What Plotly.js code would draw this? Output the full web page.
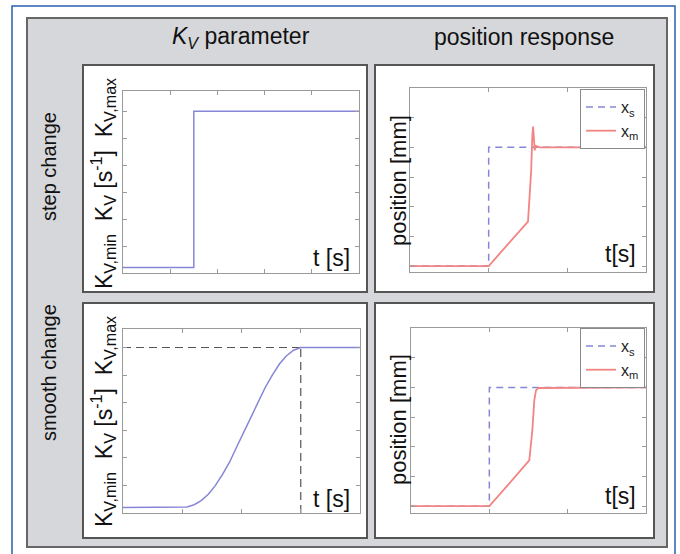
<!DOCTYPE html>
<html>
<head>
<meta charset="utf-8">
<script src="https://cdn.plot.ly/plotly-3.0.1.min.js"></script>
<style>
  html, body { margin: 0; padding: 0; background: #ffffff; }
  #chart { width: 680px; height: 554px; }
</style>
</head>
<body>
<div id="chart"></div>
<script>
// ---------- data ----------
// Top-left: step change of K_V (normalised time 0..1)
const kvStepT = [0, 0.3, 0.3, 1];
const kvStepV = [0.2, 0.2, 6, 6];

// Bottom-left: smooth change of K_V
const kvSmoothT = [0, 0.25, 0.27, 0.30, 0.33, 0.36, 0.39, 0.42, 0.45, 0.48, 0.51, 0.54, 0.57, 0.60, 0.63, 0.66, 0.69, 0.72, 0.75, 1.0];
const kvSmoothV = [0.2, 0.2, 0.22, 0.3, 0.45, 0.68, 1.0, 1.4, 1.85, 2.4, 2.95, 3.5, 4.05, 4.55, 5.0, 5.4, 5.7, 5.9, 6.0, 6.0];
// reference (dashed) lines in bottom-left
const refHT = [0, 0.75];
const refHV = [6, 6];
const refVT = [0.75, 0.75];
const refVV = [0, 6];

// Top-right: position response to the step change
const xsT = [0, 1, 1, 3];
const xsV = [0, 0, 4, 4];
const xmStepT = [0, 1, 1.5, 1.54, 1.555, 1.565, 1.575, 1.585, 1.6, 1.65, 3];
const xmStepV = [0, 0, 1.5, 3.2, 4.4, 4.7, 4.3, 3.9, 4.05, 4.0, 4.0];

// Bottom-right: position response to the smooth change
const xsT2 = [0, 1, 1, 3];
const xsV2 = [0, 0, 4, 4];
const xmSmoothT = [0, 1, 1.51, 1.549, 1.574, 1.596, 1.625, 3];
const xmSmoothV = [0, 0, 1.54, 2.55, 3.56, 3.9, 3.98, 4.0];

const legendNames = ['x<sub>s</sub>', 'x<sub>m</sub>'];
const colTitles = ['<i>K</i><sub><i>V</i></sub> parameter', 'position response'];
const rowTitles = ['step change', 'smooth change'];
const kvLabel = 'K<sub>V,min</sub>&nbsp;&nbsp;K<sub>V</sub> [s<sup>-1</sup>]&nbsp;&nbsp;K<sub>V,max</sub>';

// ---------- helpers ----------
const W = 680, H = 554;
const px = v => v / W;
const py = v => 1 - v / H;
const BLUE = '#8686d6';
const RED = '#f28484';
const AXC = '#9a9a9a';

function axis(d0, d1, range, dtick) {
  return {
    domain: [d0, d1], range: range, dtick: dtick, tick0: 0,
    showticklabels: false, ticks: 'inside', ticklen: 4, tickcolor: AXC, tickwidth: 1,
    showline: true, mirror: 'ticks', linecolor: AXC, linewidth: 1,
    showgrid: false, zeroline: false, fixedrange: true
  };
}

const traces = [
  // top-left
  { x: kvStepT, y: kvStepV, xaxis: 'x', yaxis: 'y', mode: 'lines',
    line: { color: BLUE, width: 1.5 }, showlegend: false },
  // top-right
  { x: xsT, y: xsV, xaxis: 'x2', yaxis: 'y2', mode: 'lines', name: legendNames[0],
    line: { color: BLUE, width: 1.5, dash: '7px,5px' }, legend: 'legend' },
  { x: xmStepT, y: xmStepV, xaxis: 'x2', yaxis: 'y2', mode: 'lines', name: legendNames[1],
    line: { color: RED, width: 1.8 }, legend: 'legend' },
  // bottom-left
  { x: refHT, y: refHV, xaxis: 'x3', yaxis: 'y3', mode: 'lines',
    line: { color: '#555555', width: 1.2, dash: '8px,5px' }, showlegend: false },
  { x: refVT, y: refVV, xaxis: 'x3', yaxis: 'y3', mode: 'lines',
    line: { color: '#555555', width: 1.2, dash: '8px,5px' }, showlegend: false },
  { x: kvSmoothT, y: kvSmoothV, xaxis: 'x3', yaxis: 'y3', mode: 'lines',
    line: { color: BLUE, width: 1.5 }, showlegend: false },
  // bottom-right
  { x: xsT2, y: xsV2, xaxis: 'x4', yaxis: 'y4', mode: 'lines', name: legendNames[0],
    line: { color: BLUE, width: 1.5, dash: '7px,5px' }, legend: 'legend2' },
  { x: xmSmoothT, y: xmSmoothV, xaxis: 'x4', yaxis: 'y4', mode: 'lines', name: legendNames[1],
    line: { color: RED, width: 1.8 }, legend: 'legend2' }
];

function rect(x0, y0, x1, y1, fill, lc, lw) {
  return { type: 'rect', xref: 'paper', yref: 'paper', layer: 'below',
    x0: px(x0), x1: px(x1), y0: py(y0), y1: py(y1),
    fillcolor: fill, line: { color: lc, width: lw } };
}

const shapes = [
  rect(12, 6, 675, 560, 'rgba(0,0,0,0)', '#2a62b0', 1.5),
  rect(27, 18, 667, 547, '#d6d7da', '#666666', 2),
  rect(83, 65, 367, 292, '#ffffff', '#555555', 2),
  rect(375, 65, 654, 292, '#ffffff', '#555555', 2),
  rect(83, 303, 367, 538, '#ffffff', '#555555', 2),
  rect(375, 303, 654, 538, '#ffffff', '#555555', 2)
];

const FONT = 'Liberation Sans, Arial, sans-serif';
function ann(text, x, y, size, angle) {
  return { text: text, xref: 'paper', yref: 'paper', x: px(x), y: py(y),
    xanchor: 'center', yanchor: 'middle', showarrow: false, textangle: angle || 0,
    font: { family: FONT, size: size, color: '#111111' } };
}

const annotations = [
  ann(colTitles[0], 241, 37, 23),
  ann(colTitles[1], 524, 37, 23),
  ann(rowTitles[0], 49, 166, 20, -90),
  ann(rowTitles[1], 49, 372, 20, -90),
  ann(kvLabel, 103, 183, 23, -90),
  ann(kvLabel, 103, 421, 23, -90),
  ann('position [mm]', 398, 181, 22, -90),
  ann('position [mm]', 398, 420, 22, -90),
  ann('t [s]', 331, 258, 23),
  ann('t [s]', 331, 499, 23),
  ann('t[s]', 620, 254, 23),
  ann('t[s]', 620, 496, 23)
];

const legendStyle = {
  xanchor: 'right', yanchor: 'top', bgcolor: '#ffffff', bordercolor: '#8a8a8a', borderwidth: 1,
  font: { family: FONT, size: 16, color: '#222222' }, itemwidth: 30, tracegroupgap: 0
};

const layout = {
  width: W, height: H,
  margin: { l: 0, r: 0, t: 0, b: 0 },
  paper_bgcolor: '#ffffff', plot_bgcolor: 'rgba(0,0,0,0)',
  font: { family: FONT },
  showlegend: true,
  xaxis:  Object.assign(axis(px(123), px(359), [0, 1], 0.2), { anchor: 'y' }),
  yaxis:  Object.assign(axis(py(273), py(91), [0, 6.75], 1), { anchor: 'x' }),
  xaxis2: Object.assign(axis(px(410), px(646), [0, 3], 1), { anchor: 'y2' }),
  yaxis2: Object.assign(axis(py(272), py(88), [-0.2, 6], 1), { anchor: 'x2' }),
  xaxis3: Object.assign(axis(px(123), px(360), [0, 1], 0.25), { anchor: 'y3' }),
  yaxis3: Object.assign(axis(py(513), py(329), [0, 6.67], 1), { anchor: 'x3' }),
  xaxis4: Object.assign(axis(px(411), px(646), [0, 3], 1), { anchor: 'y4' }),
  yaxis4: Object.assign(axis(py(513), py(328), [-0.23, 6], 1), { anchor: 'x4' }),
  legend:  Object.assign({}, legendStyle, { x: px(645), y: py(89) }),
  legend2: Object.assign({}, legendStyle, { x: px(645), y: py(328) }),
  shapes: shapes,
  annotations: annotations
};

Plotly.newPlot('chart', traces, layout, { staticPlot: true, displayModeBar: false });
</script>
</body>
</html>
